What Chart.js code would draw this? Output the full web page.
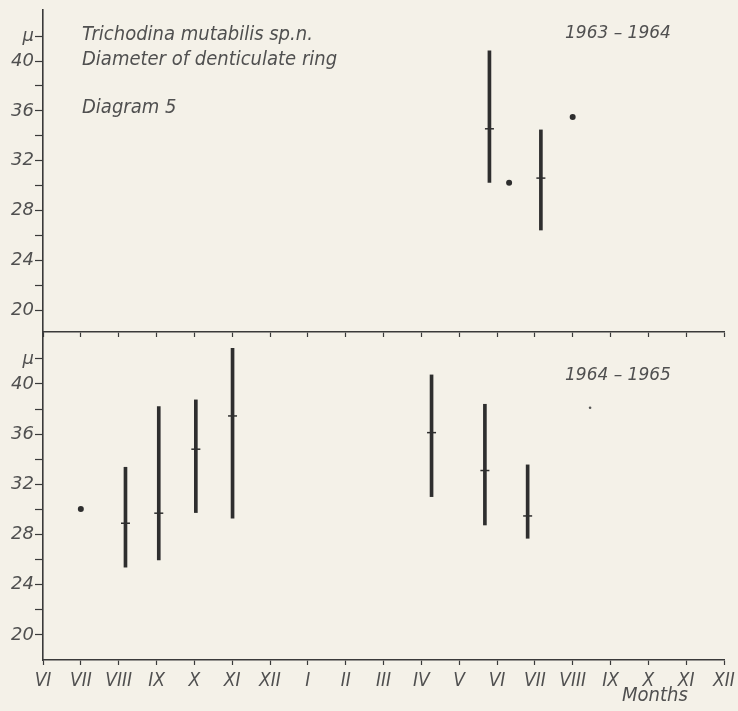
<!DOCTYPE html>
<html><head><meta charset="utf-8">
<script src="https://cdn.jsdelivr.net/npm/chart.js@4.4.1/dist/chart.umd.min.js"></script>
<style>
html,body{margin:0;padding:0;background:#f4f1e8;width:738px;height:711px;overflow:hidden;position:relative}
.wrap{position:absolute;left:0;width:738px}
.t{position:absolute;font-family:'Liberation Sans Narrow','DejaVu Sans Condensed',sans-serif;font-style:italic;color:#505050;white-space:nowrap;line-height:1}
.y{font-family:'DejaVu Sans',sans-serif;font-size:17px}
</style></head><body>
<div class="wrap" style="top:0;height:340px"><canvas id="c1" width="738" height="340"></canvas></div>
<div class="wrap" style="top:320px;height:391px"><canvas id="c2" width="738" height="391"></canvas></div>
<div class="t" style="left:82px;top:23px;font-size:20px">Trichodina mutabilis sp.n.</div>
<div class="t" style="left:82px;top:48px;font-size:20px">Diameter of denticulate ring</div>
<div class="t" style="left:82px;top:96px;font-size:20px">Diagram 5</div>
<div class="t y" style="left:565px;top:24px">1963 – 1964</div>
<div class="t y" style="left:565px;top:366px">1964 – 1965</div>
<div class="t" style="left:622px;top:684px;font-size:20px">Months</div>
<script>
// Month tick labels (June of first year .. December of following year)
const months = ['VI','VII','VIII','IX','X','XI','XII','I','II','III','IV','V','VI','VII','VIII','IX','X','XI','XII'];
const yTickValues = [20,22,24,26,28,30,32,34,36,38,40,42];
const yTickLabels = ['20','','24','','28','','32','','36','','40','μ'];

// 1963-1964: ranges (min–max with mean) and single observations
const topRangeX    = [11.8, 13.16];
const topRangeMin  = [30.26, 26.43];
const topRangeMax  = [40.83, 34.47];
const topRangeMean = [34.56, 30.6];
const topDotX = [12.32, 14.0];
const topDotY = [30.22, 35.5];

// 1964-1965
const botRangeX    = [2.18, 3.06, 4.04, 5.01, 10.27, 11.68, 12.81];
const botRangeMin  = [25.4, 25.98, 29.75, 29.3, 31.02, 28.76, 27.7];
const botRangeMax  = [33.36, 38.2, 38.73, 42.84, 40.72, 38.38, 33.55];
const botRangeMean = [28.9, 29.7, 34.8, 37.45, 36.12, 33.1, 29.48];
const botDotX = [1.0];
const botDotY = [30.04];
const botFaintX = [14.46];
const botFaintY = [38.1];

const LINE = '#3a3a3a';
const MARK = '#2e2e2e';
const TXT = '#505050';

function yScale(min, max){
  return {
    type:'linear', position:'left', min:min, max:max,
    afterFit(s){ s.width = 43; s.paddingTop = 0; s.paddingBottom = 0; },
    afterBuildTicks(s){ s.ticks = yTickValues.map(v => ({value:v})); },
    ticks:{
      autoSkip:false, padding:1, color:TXT,
      font:{family:"'DejaVu Sans', sans-serif", style:'italic', size:18},
      callback(v){ const i = yTickValues.indexOf(v); return i >= 0 ? yTickLabels[i] : ''; }
    },
    grid:{drawOnChartArea:false, drawTicks:true, tickLength:8, color:LINE, tickWidth:1.2},
    border:{display:true, color:LINE, width:1.6}
  };
}
function xScale(showLabels, h){
  return {
    type:'linear', position:'bottom', min:0, max:18, offset:false,
    afterFit(s){ s.height = h; s.paddingLeft = 0; s.paddingRight = 0; },
    afterBuildTicks(s){ s.ticks = months.map((m,i) => ({value:i})); },
    ticks:{
      display:showLabels, autoSkip:false, maxRotation:0, padding:5, color:TXT,
      font:{family:"'Liberation Sans Narrow', 'DejaVu Sans Condensed', sans-serif", style:'italic', size:19},
      callback(v){ return months[v] !== undefined ? months[v] : ''; }
    },
    grid:{drawOnChartArea:false, drawTicks:true, tickLength:5, color:LINE, tickWidth:1.2, offset:false},
    border:{display:true, color:LINE, width:1.6}
  };
}
function datasets(rx, rmin, rmax, rmean, dx, dy, fx, fy){
  const ds = [
    {type:'bar', data: rx.map((x,i)=>({x:x, y:[rmin[i], rmax[i]]})), backgroundColor:MARK, borderWidth:0, barThickness:3, grouped:false},
    {type:'scatter', data: rx.map((x,i)=>({x:x, y:rmean[i]})), pointStyle:'line', radius:4.5, borderColor:MARK, borderWidth:1.5},
    {type:'scatter', data: dx.map((x,i)=>({x:x, y:dy[i]})), pointStyle:'circle', radius:3, backgroundColor:MARK, borderColor:MARK, borderWidth:0}
  ];
  if (fx) ds.push({type:'scatter', data: fx.map((x,i)=>({x:x, y:fy[i]})), pointStyle:'circle', radius:1.3, backgroundColor:'#555', borderWidth:0});
  return ds;
}
const common = {
  responsive:false, animation:false, events:[],
  plugins:{legend:{display:false}, tooltip:{enabled:false}, title:{display:false}}
};

new Chart(document.getElementById('c1'), {
  type:'scatter',
  data:{datasets: datasets(topRangeX, topRangeMin, topRangeMax, topRangeMean, topDotX, topDotY)},
  options: Object.assign({}, common, {
    layout:{padding:{left:0, right:14, top:10, bottom:0}},
    scales:{ x: xScale(false, 8), y: yScale(18.24, 44.1) }
  })
});
new Chart(document.getElementById('c2'), {
  type:'scatter',
  data:{datasets: datasets(botRangeX, botRangeMin, botRangeMax, botRangeMean, botDotX, botDotY, botFaintX, botFaintY)},
  options: Object.assign({}, common, {
    layout:{padding:{left:0, right:14, top:13, bottom:21}},
    scales:{ x: xScale(true, 30), y: yScale(18.0, 44.06) }
  })
});
</script>
</body></html>
